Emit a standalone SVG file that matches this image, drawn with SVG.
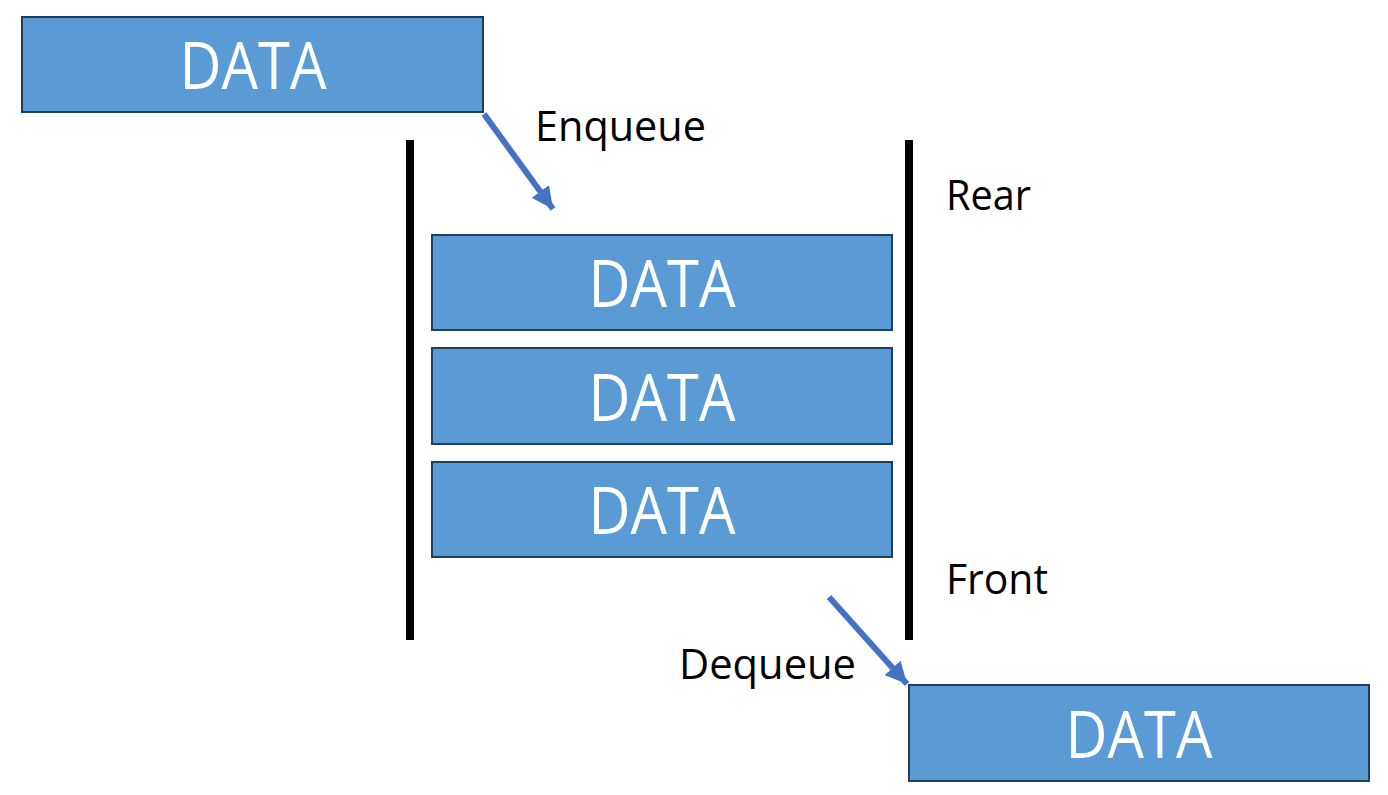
<svg xmlns="http://www.w3.org/2000/svg" width="1388" height="795" viewBox="0 0 1388 795">
  <style>
    .box { fill: #5B9BD5; stroke: #1F3F5F; stroke-width: 2; }
    .data { fill: #FFFFFF; font-family: "Open Sans", "Noto Sans", sans-serif; font-size: 65px; text-anchor: middle; }
    .label { fill: #000000; font-family: "Open Sans", "Noto Sans", sans-serif; font-size: 42px; }
    .wall { stroke: #000000; stroke-width: 8; }
    .flow { stroke: #4472C4; stroke-width: 6; fill: none; marker-end: url(#head); }
  </style>
  <defs>
    <marker id="head" viewBox="0 0 10 10" refX="10" refY="5" markerWidth="3.6" markerHeight="3.6" orient="auto" markerUnits="strokeWidth">
      <path d="M0,0 L10,5 L0,10 Z" fill="#4472C4"/>
    </marker>
  </defs>
  <rect width="1388" height="795" fill="#FFFFFF"/>

  <!-- queue walls -->
  <g id="walls">
    <line class="wall" x1="410" y1="140" x2="410" y2="640"/>
    <line class="wall" x1="909" y1="140" x2="909" y2="640"/>
  </g>

  <!-- incoming item -->
  <g id="incoming">
    <rect class="box" x="22" y="17" width="461" height="95"/>
    <text class="data" x="253" y="89" textLength="147" lengthAdjust="spacingAndGlyphs">DATA</text>
  </g>

  <!-- items in the queue -->
  <g id="item1">
    <rect class="box" x="432" y="235" width="460" height="95"/>
    <text class="data" x="662" y="307" textLength="147" lengthAdjust="spacingAndGlyphs">DATA</text>
  </g>
  <g id="item2">
    <rect class="box" x="432" y="348" width="460" height="96"/>
    <text class="data" x="662" y="421" textLength="147" lengthAdjust="spacingAndGlyphs">DATA</text>
  </g>
  <g id="item3">
    <rect class="box" x="432" y="462" width="460" height="95"/>
    <text class="data" x="662" y="534" textLength="147" lengthAdjust="spacingAndGlyphs">DATA</text>
  </g>

  <!-- outgoing item -->
  <g id="outgoing">
    <rect class="box" x="909" y="685" width="460" height="96"/>
    <text class="data" x="1139" y="758" textLength="147" lengthAdjust="spacingAndGlyphs">DATA</text>
  </g>

  <!-- labels -->
  <g id="labels">
    <text class="label" x="535" y="141" textLength="171" lengthAdjust="spacingAndGlyphs">Enqueue</text>
    <text class="label" x="946" y="210" textLength="85" lengthAdjust="spacingAndGlyphs">Rear</text>
    <text class="label" x="946" y="594" textLength="102" lengthAdjust="spacingAndGlyphs">Front</text>
    <text class="label" x="679" y="679" textLength="177" lengthAdjust="spacingAndGlyphs">Dequeue</text>
  </g>

  <!-- connectors -->
  <g id="connectors">
    <line class="flow" x1="484" y1="114" x2="553" y2="209"/>
    <line class="flow" x1="829" y1="597" x2="907" y2="684"/>
  </g>
</svg>
